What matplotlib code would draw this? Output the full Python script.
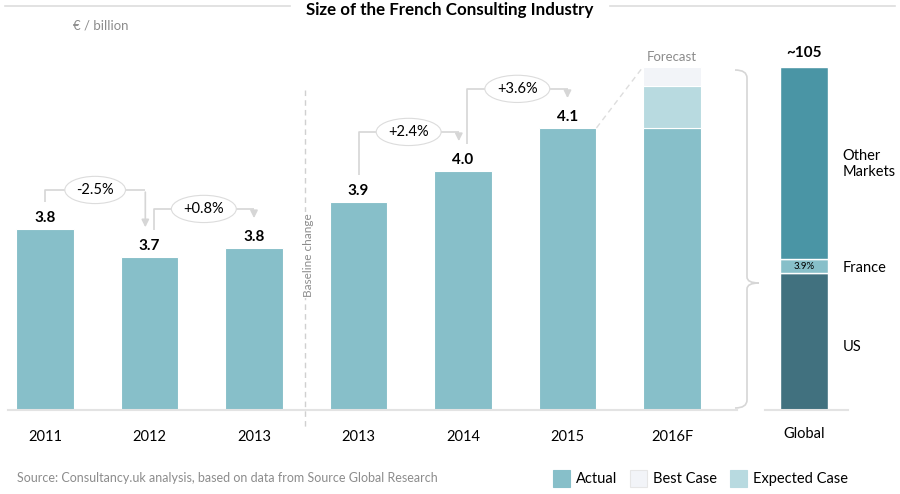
import numpy as np
import matplotlib.pyplot as plt
from matplotlib.lines import Line2D
from matplotlib.path import Path
from matplotlib.patches import PathPatch

plt.rcParams['font.family'] = ['Lato', 'DejaVu Sans']

# data (labels as printed)
years = ["2011", "2012", "2013", "2013", "2014", "2015", "2016F"]
actual = [3.826, 3.749, 3.774, 3.90, 3.985, 4.103, 4.103]
value_labels = ["3.8", "3.7", "3.8", "3.9", "4.0", "4.1", None]
expected_extra = 0.115   # 2016F expected case on top of actual
best_extra = 0.052       # 2016F best case on top of expected
changes = ["-2.5%", "+0.8%", None, "+2.4%", "+3.6%"]

global_parts = ["US", "France", "Other\nMarkets"]
global_vals = [42.0, 4.1, 58.9]
global_total = "~105"
france_share = "3.9%"

c_actual = "#87bfc9"
c_best = "#f2f4f8"
c_expected = "#b8dae0"
c_global = ["#41717f", "#87bfc9", "#4a95a5"]
grey = "#8c8c8c"
line_grey = "#d6d6d6"

fig = plt.figure(figsize=(9, 4.94), dpi=100)
ax = fig.add_axes([0, 84/494, 1, 370/494])
px = 1/365  # one pixel in data units
ax.set_xlim(-45/104.5, 855/104.5)
ax.set_ylim(3.33, 3.33 + 370*px)
ax.axis("off")

x = np.arange(len(years))
w = 0.555
ax.bar(x, np.array(actual) - 3.33, w, bottom=3.33, color=c_actual, edgecolor="white", lw=0.8)
ax.bar(x[-1], expected_extra, w, bottom=actual[-1], color=c_expected, edgecolor="white", lw=0.8)
ax.bar(x[-1], best_extra, w, bottom=actual[-1] + expected_extra, color=c_best, edgecolor="white", lw=0.8)

for xi, v, lab in zip(x, actual, value_labels):
    if lab:
        ax.text(xi, v + 4*px, lab, ha="center", va="bottom", fontsize=11, fontweight="bold")
    ax.text(xi, 3.33 - 27*px, years[xi], ha="center", va="center", fontsize=10.5)

# growth connectors
for i, ch in enumerate(changes):
    if ch is None:
        continue
    x0 = x[i] + (0.04 if i in (1, 4) else 0)
    x1 = x[i+1] - (0.04 if i+1 in (1, 4) else 0)
    y0 = actual[i] + 27*px
    y1 = actual[i+1] + 27*px
    yc = max(actual[i], actual[i+1]) + 39*px
    ax.plot([x0, x0, x1], [y0, yc, yc], color=line_grey, lw=1.2, solid_capstyle="butt")
    ax.annotate("", xy=(x1, y1), xytext=(x1, yc + 0.6*px),
                arrowprops=dict(arrowstyle="-|>", color=line_grey, lw=1.2, mutation_scale=11))
    ax.text((x0 + x1)/2, yc, ch, ha="center", va="center", fontsize=10.5,
            bbox=dict(boxstyle="ellipse,pad=0.18", fc="white", ec="#dcdcdc", lw=0.8))

# baselines
ax.plot([-0.35, 6.62], [3.33, 3.33], color="#e3e3e3", lw=1.5, clip_on=False)

# global bar
gx = (804 - 45)/104.5
ax2 = ax.twinx()
ax2.set_ylim(0, 105*370/343)
ax2.axis("off")
bottom = 0
for val, col in zip(global_vals, c_global):
    ax2.bar(gx, val, 0.45, bottom=bottom, color=col, edgecolor="white", lw=1)
    bottom += val
ax2.plot([gx - 0.37, gx + 0.42], [0, 0], color="#e3e3e3", lw=1.5, clip_on=False)
ax2.text(gx, bottom + 2, global_total, ha="center", va="bottom", fontsize=11, fontweight="bold")
ax2.text(gx, global_vals[0] + global_vals[1]/2, france_share, ha="center", va="center", fontsize=7)
ax2.text(gx, -7.2, "Global", ha="center", va="center", fontsize=10.5)
mids = np.cumsum(global_vals) - np.array(global_vals)/2
label_y = [mids[0] - 1.8, mids[1] - 0.5, mids[2] - 0.3]
for name, yy in zip(global_parts, label_y):
    ax2.text(gx + 0.37, yy, name, ha="left", va="center", fontsize=10.5, linespacing=1.15)

# forecast hints
ax.text(x[-1], actual[-1] + expected_extra + best_extra + 4*px, "Forecast", ha="center",
        va="bottom", fontsize=9.5, color=grey)
ax.plot([x[-2] + w/2, x[-1] - w/2], [actual[-2], actual[-1] + expected_extra + best_extra],
        color="#dddddd", lw=1, ls=(0, (4, 3)))

# brace pointing at global bar
xb = (747 - 45)/104.5
d = 12/104.5
yt, yb, ym = 3.33 + 340*px, 3.33 + 2*px, 3.33 + 127*px
verts = [(xb - d, yt), (xb, yt), (xb, yt - 8*px), (xb, ym + 6*px), (xb, ym), (xb + d, ym),
         (xb, ym), (xb, ym - 6*px), (xb, yb + 8*px), (xb, yb), (xb - d, yb)]
codes = [Path.MOVETO, Path.CURVE3, Path.CURVE3, Path.LINETO, Path.CURVE3, Path.CURVE3,
         Path.CURVE3, Path.CURVE3, Path.LINETO, Path.CURVE3, Path.CURVE3]
ax.add_patch(PathPatch(Path(verts, codes), fc="none", ec=line_grey, lw=1.2, clip_on=False))

# baseline change separator
xs = (305 - 45)/104.5
ax.plot([xs, xs], [3.33 + 320*px, 3.33 - 20*px], color="#d0d0d0", lw=1, ls=(0, (4, 3)), clip_on=False)
ax.text(xs + 3/104.5, 3.33 + 155*px, "Baseline change", rotation=90, ha="center", va="center",
        fontsize=8.5, color=grey, bbox=dict(fc="white", ec="none", pad=1))

# header
fig.add_artist(Line2D([5/900, 290/900], [1 - 6/494, 1 - 6/494], color="#dddddd", lw=1.2))
fig.add_artist(Line2D([610/900, 895/900], [1 - 6/494, 1 - 6/494], color="#dddddd", lw=1.2))
fig.text(0.5, 1 - 10/494, "Size of the French Consulting Industry", ha="center", va="center",
         fontsize=12.2, fontweight="bold")
fig.text(73/900, 1 - 25/494, "€ / billion", ha="left", va="center", fontsize=9.5, color=grey)

# footer
fig.text(17/900, 1 - 478/494, "Source: Consultancy.uk analysis, based on data from Source Global Research",
         ha="left", va="center", fontsize=9, color=grey)
leg = [("Actual", c_actual, 553), ("Best Case", c_best, 630), ("Expected Case", c_expected, 730)]
for name, col, lx in leg:
    fig.patches.append(plt.Rectangle((lx/900, 1 - 487/494), 17/900, 17/494, transform=fig.transFigure,
                                     fc=col, ec="#e6e6e6" if col == c_best else col, lw=0.8))
    fig.text((lx + 23)/900, 1 - 479/494, name, ha="left", va="center", fontsize=10.5)

fig.savefig("out.png", dpi=100)
